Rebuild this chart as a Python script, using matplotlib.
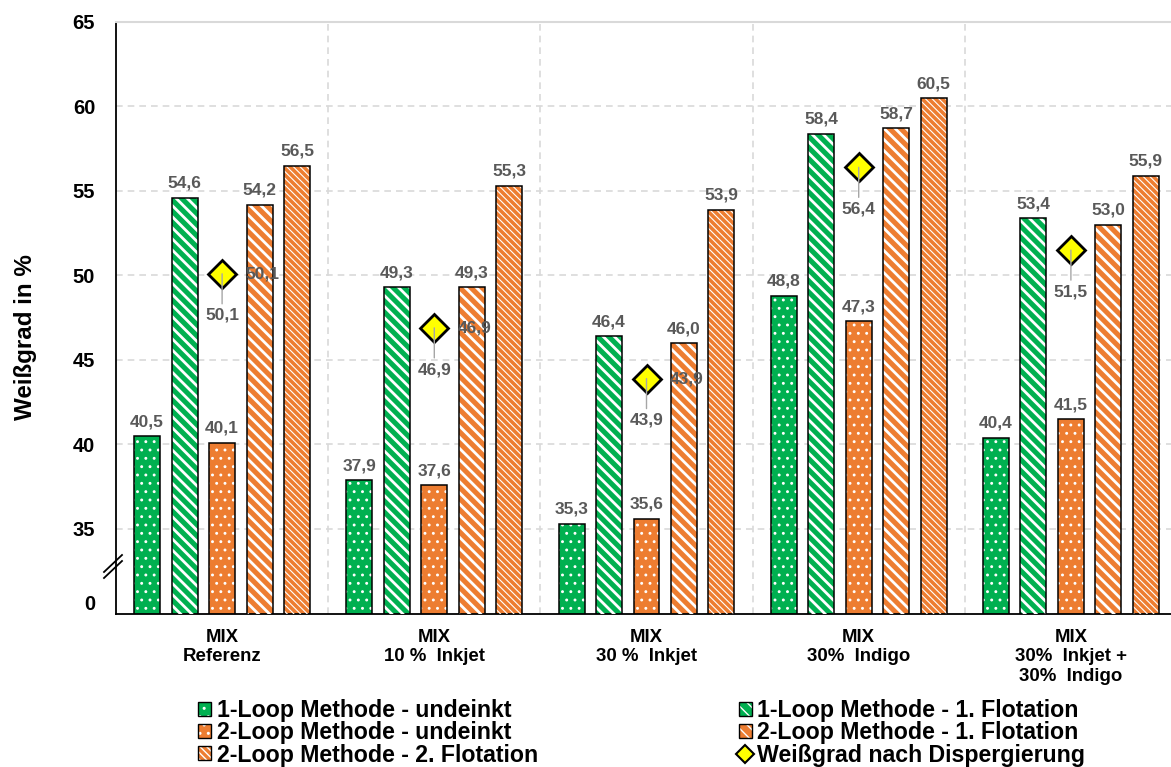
import numpy as np
import matplotlib as mpl
import matplotlib.pyplot as plt
from matplotlib.lines import Line2D
from matplotlib.patches import Patch
from matplotlib.legend_handler import HandlerTuple

plt.rcParams['font.family'] = ['Liberation Sans', 'DejaVu Sans']
plt.rcParams['font.weight'] = 'bold'

# data
categories = ['MIX\nReferenz', 'MIX\n10 %  Inkjet', 'MIX\n30 %  Inkjet',
              'MIX\n30%  Indigo', 'MIX\n30%  Inkjet +\n30%  Indigo']
loop1_undeinkt = [40.5, 37.9, 35.3, 48.8, 40.4]
loop1_flot1 = [54.6, 49.3, 46.4, 58.4, 53.4]
loop2_undeinkt = [40.1, 37.6, 35.6, 47.3, 41.5]
loop2_flot1 = [54.2, 49.3, 46.0, 58.7, 53.0]
loop2_flot2 = [56.5, 55.3, 53.9, 60.5, 55.9]
dispergierung = [50.1, 46.9, 43.9, 56.4, 51.5]
dup_label_groups = [0, 1, 2]   # groups where the diamond label shows up twice

series_names = ['1-Loop Methode - undeinkt', '1-Loop Methode - 1. Flotation',
                '2-Loop Methode - undeinkt', '2-Loop Methode - 1. Flotation',
                '2-Loop Methode - 2. Flotation']
disp_name = 'Weißgrad nach Dispergierung'

GREEN = '#00B050'
ORANGE = '#ED7D31'
LBL = '#595959'

series = [loop1_undeinkt, loop1_flot1, loop2_undeinkt, loop2_flot1, loop2_flot2]
styles = [(GREEN, '..', 0.9), (GREEN, '\\\\\\', 2.0), (ORANGE, '..', 0.9),
          (ORANGE, '\\\\\\', 2.0), (ORANGE, '\\\\\\\\\\', 0.8)]

fig = plt.figure(figsize=(11.71, 7.67), dpi=100)
ax = fig.add_axes([116 / 1171, 1 - 613.5 / 767, 1061 / 1171, 591.5 / 767])

x = np.arange(len(categories))
slot = 0.1767
w = 0.1225


def hatched_bars(xs, vals, color, hatch, hlw):
    ax.bar(xs, vals, w, color=color, edgecolor='none', zorder=2)
    with plt.rc_context({'hatch.linewidth': hlw}):
        hb = ax.bar(xs, vals, w, color='none', edgecolor='white', linewidth=0,
                    hatch=hatch, zorder=3)
        for p in hb:
            if hasattr(p, 'set_hatch_linewidth'):
                p.set_hatch_linewidth(hlw)
    ax.bar(xs, vals, w, color='none', edgecolor='black', linewidth=1.1, zorder=4)


handles = []
for i, (vals, (col, hat, hlw)) in enumerate(zip(series, styles)):
    xs = x + (i - 2) * slot
    hatched_bars(xs, vals, col, hat, hlw)
    for xi, v in zip(xs, vals):
        ax.annotate(f'{v:.1f}'.replace('.', ','), (xi, v), xytext=(0, 5),
                    textcoords='offset points', ha='center', va='bottom',
                    fontsize=12.5, color=LBL, fontweight='bold', zorder=6)
    with plt.rc_context({'hatch.linewidth': hlw}):
        handles.append((Patch(facecolor=col, edgecolor='none'),
                        Patch(facecolor='none', edgecolor='white', linewidth=0, hatch=hat),
                        Patch(facecolor='none', edgecolor='black', linewidth=1.0)))

# diamonds
ax.plot(x, dispergierung, linestyle='none', marker='D', markersize=14,
        markerfacecolor='#FFFF00', markeredgecolor='black', markeredgewidth=2, zorder=5)
for i, v in enumerate(dispergierung):
    txt = f'{v:.1f}'.replace('.', ',')
    ax.annotate(txt, (x[i], v), xytext=(0, -30), textcoords='offset points',
                ha='center', va='center', fontsize=12.5, color=LBL, fontweight='bold',
                arrowprops=dict(arrowstyle='-', color='#A6A6A6', lw=1,
                                shrinkA=1, shrinkB=0), zorder=6)
    if i in dup_label_groups:
        ax.annotate(txt, (x[i], v), xytext=(29, 0), textcoords='offset points',
                    ha='center', va='center', fontsize=12.5, color=LBL,
                    fontweight='bold', zorder=6)
disp_handle = Line2D([], [], linestyle='none', marker='D', markersize=9,
                     markerfacecolor='#FFFF00', markeredgecolor='black',
                     markeredgewidth=1.5)

# axes styling
ax.set_xlim(-0.5, 4.5)
ax.set_ylim(30, 65)
ax.set_yticks([30.68, 35, 40, 45, 50, 55, 60, 65])
ax.set_yticklabels(['0', '35', '40', '45', '50', '55', '60', '65'])
ax.tick_params(axis='y', length=0, pad=15, labelsize=14.5)
ax.set_xticks(x)
ax.set_xticklabels(categories, fontsize=13.4, fontweight='bold')
ax.tick_params(axis='x', length=0, pad=11)
for yv in [35, 40, 45, 50, 55, 60]:
    ax.axhline(yv, color='#D9D9D9', linestyle=(0, (4, 3)), lw=1.2, zorder=0)
for xv in np.arange(0.5, 5, 1.0):
    ax.axvline(xv, color='#D9D9D9', linestyle=(0, (4, 3)), lw=1.2, zorder=0)
ax.spines['right'].set_visible(False)
ax.spines['top'].set_color('#D9D9D9')
ax.spines['top'].set_linewidth(1.5)
ax.spines['left'].set_linewidth(1.3)
ax.spines['bottom'].set_linewidth(1.3)
ax.set_ylabel('Weißgrad in %', fontsize=17.4, fontweight='bold')
ax.yaxis.set_label_coords(-0.0745, 0.467)

# axis break marks
for dy in (0, 6):
    fig.add_artist(Line2D([104 / 1171, 122 / 1171],
                          [1 - (578 - dy) / 767, 1 - (561 - dy) / 767],
                          color='black', lw=1.3))

# legend: column-wise order
order = [0, 2, 4, 1, 3]
leg_handles = [handles[k] for k in order[:3]] + [handles[k] for k in order[3:]] + [disp_handle]
leg_labels = [series_names[k] for k in order[:3]] + [series_names[k] for k in order[3:]] + [disp_name]
fig.legend(leg_handles, leg_labels, loc='upper left',
           bbox_to_anchor=(198 / 1171, 1 - 699 / 767), ncol=2, frameon=False,
           prop={'size': 16.7, 'weight': 'bold'}, handlelength=0.56, handleheight=0.56,
           handletextpad=0.25, labelspacing=-0.03, columnspacing=8.65, borderpad=0,
           borderaxespad=0, handler_map={tuple: HandlerTuple(ndivide=1)})

fig.savefig('out.png', dpi=100)
